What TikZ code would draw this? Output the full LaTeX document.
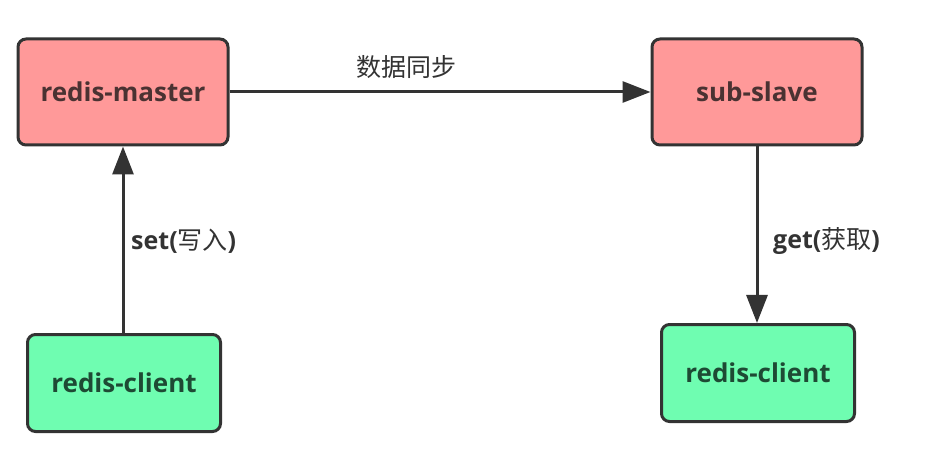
\documentclass[tikz,border=0pt]{standalone}
\usepackage{fontspec}
\setmainfont{Open Sans}
\newfontfamily\cjk{Noto Sans CJK SC}
\usetikzlibrary{arrows.meta}
\definecolor{pinkfill}{HTML}{FF9999}
\definecolor{greenfill}{HTML}{6FFDB1}
\definecolor{edge}{HTML}{333333}
\definecolor{pinktext}{HTML}{4A3232}
\definecolor{greentext}{HTML}{1E4A34}
\tikzset{
  box/.style={draw=edge, line width=3pt, rounded corners=8pt, inner sep=0pt,
    font=\fontsize{26}{30}\selectfont\bfseries},
  master/.style={box, fill=pinkfill, text=pinktext, minimum width=210pt, minimum height=106pt},
  client/.style={box, fill=greenfill, text=greentext, minimum width=193pt, minimum height=97pt},
  conn/.style={draw=edge, line width=3pt, -{Triangle[length=28pt,width=21pt]}},
  lbl/.style={text=edge, font=\fontsize{25}{29}\selectfont\bfseries, inner sep=0pt}
}
\begin{document}
\begin{tikzpicture}[x=1pt,y=-1pt]
\useasboundingbox (0,0) rectangle (926,470);
\node[master] (m) at (123,92) {redis-master};
\node[master] (s) at (757,92) {sub-slave};
\node[client] (c1) at (124,383) {redis-client};
\node[client] (c2) at (758,373) {redis-client};
\draw[conn] (m.east) -- (s.west);
\draw[conn] (c1.north -| m.south) -- (m.south);
\draw[conn] (s.south) -- (s.south |- c2.north);
\node[lbl, font=\fontsize{25}{29}\selectfont\cjk] (l1) at (406,67) {数据同步};
\node[lbl, anchor=west] (l2) at (131,241) {set({\mdseries\cjk 写入})};
\node[lbl, anchor=west] (l3) at (773,241) {get({\mdseries\cjk 获取})};
\end{tikzpicture}
\end{document}
